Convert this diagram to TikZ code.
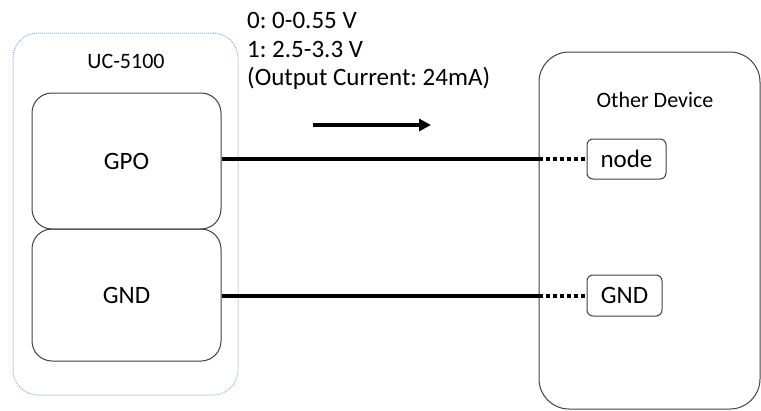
\documentclass[tikz,border=0pt]{standalone}
\usepackage{fontspec}
\setmainfont{Carlito}
\usetikzlibrary{arrows.meta}
\definecolor{bluedot}{RGB}{140,178,215}
\definecolor{edge}{RGB}{64,64,64}
\frenchspacing
\begin{document}
\begin{tikzpicture}[x=1pt,y=-1pt,
  box/.style={draw=edge, line width=1pt, rounded corners=20pt, inner sep=0pt},
  pin/.style={draw=edge, line width=1pt, rounded corners=6pt, inner sep=0pt, font=\fontsize{25}{30}\selectfont},
  big/.style={font=\fontsize{25}{30}\selectfont},
  spec/.style={font=\frenchspacing\fontsize{25}{28.5}\selectfont, align=left, anchor=north west, inner sep=0pt},
  lbl/.style={font=\fontsize{22}{26}\selectfont},
  wire/.style={line width=4pt},
  dotw/.style={line width=4pt, dash pattern=on 4pt off 3pt}]
\useasboundingbox (0,0) rectangle (761,410);
% UC-5100 device
\node[draw=bluedot, line width=1pt, dash pattern=on 1pt off 1pt, rounded corners=25pt,
      minimum width=225pt, minimum height=362pt, inner sep=0pt] (uc) at (125.5,214) {};
\node[lbl] (uclbl) at (126,61.5) {UC-5100};
\node[box, big, minimum width=189pt, minimum height=136pt] (gpo) at (126.5,161) {GPO};
\node[box, big, minimum width=189pt, minimum height=132pt] (gnd) at (126.5,295) {GND};
% Other device
\node[draw=edge, line width=1pt, rounded corners=30pt,
      minimum width=221pt, minimum height=357pt, inner sep=0pt] (od) at (649.5,230.5) {};
\node[lbl] (odlbl) at (655,99.5) {Other Device};
\node[pin, minimum width=79pt, minimum height=40pt] (n1) at (626.5,159) {node};
\node[pin, minimum width=75pt, minimum height=41pt] (n2) at (624.5,295.5) {GND};
% spec text
\node[spec] (specs) at (247,12.5) {0: 0-0.55 V\\1: 2.5-3.3 V\\(Output Current: 24mA)};
% arrow
\coordinate (a1) at (313,125);
\coordinate (a2) at (431,125);
\draw[line width=4pt, -{Triangle[length=12pt,width=12pt]}] (a1) -- (a2);
% wires
\draw[wire] (gpo.east |- n1.west) -- (od.west |- n1.west);
\draw[dotw] (od.west |- n1.west) -- (n1.west);
\draw[wire] (gnd.east |- n2.west) -- (od.west |- n2.west);
\draw[dotw] (od.west |- n2.west) -- (n2.west);
\end{tikzpicture}
\end{document}
